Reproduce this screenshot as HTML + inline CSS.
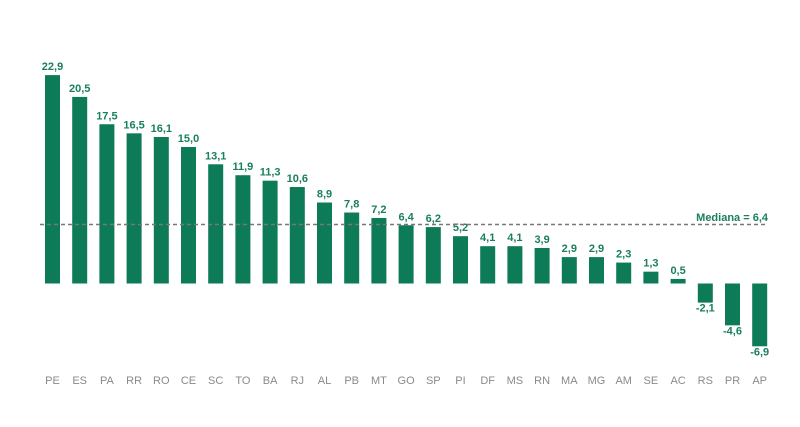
<!DOCTYPE html>
<html><head><meta charset="utf-8"><style>
body{margin:0;background:#fff;}
svg{display:block;font-family:"Liberation Sans",sans-serif;}
</style></head><body>
<svg width="800" height="427" viewBox="0 0 800 427">
<g id="g"></g>
</svg>
<script>
const d=[["PE",22.9],["ES",20.5],["PA",17.5],["RR",16.5],["RO",16.1],["CE",15.0],["SC",13.1],["TO",11.9],["BA",11.3],["RJ",10.6],["AL",8.9],["PB",7.8],["MT",7.2],["GO",6.4],["SP",6.2],["PI",5.2],["DF",4.1],["MS",4.1],["RN",3.9],["MA",2.9],["MG",2.9],["AM",2.3],["SE",1.3],["AC",0.5],["RS",-2.1],["PR",-4.6],["AP",-6.9]];
let s="";const z=283.5,k=9.1;
d.forEach((e,i)=>{const cx=52.5+i*27.2,v=e[1],h=Math.abs(v)*k;const y=v>=0?z-h:z;
s+=`<rect x="${cx-7.5}" y="${y}" width="15" height="${h}" fill="#0d7a58"/>`;
const t=v.toFixed(1).replace(".",",");
const ty=v>=0?z-h-5:z+h+9;
s+=`<text x="${cx}" y="${ty}" text-anchor="middle" font-size="11" font-weight="bold" fill="#1a7f5c">${t}</text>`;
s+=`<text x="${cx}" y="384" text-anchor="middle" font-size="11" fill="#8a8a8a">${e[0]}</text>`;});
s+=`<line x1="40" y1="224.5" x2="768" y2="224.5" stroke="#777" stroke-width="1.5" stroke-dasharray="4,3"/>`;
s+=`<text x="768" y="221" text-anchor="end" font-size="11" font-weight="bold" fill="#1a7f5c">Mediana = 6,4</text>`;
document.getElementById("g").innerHTML=s;
</script>
</body></html>
